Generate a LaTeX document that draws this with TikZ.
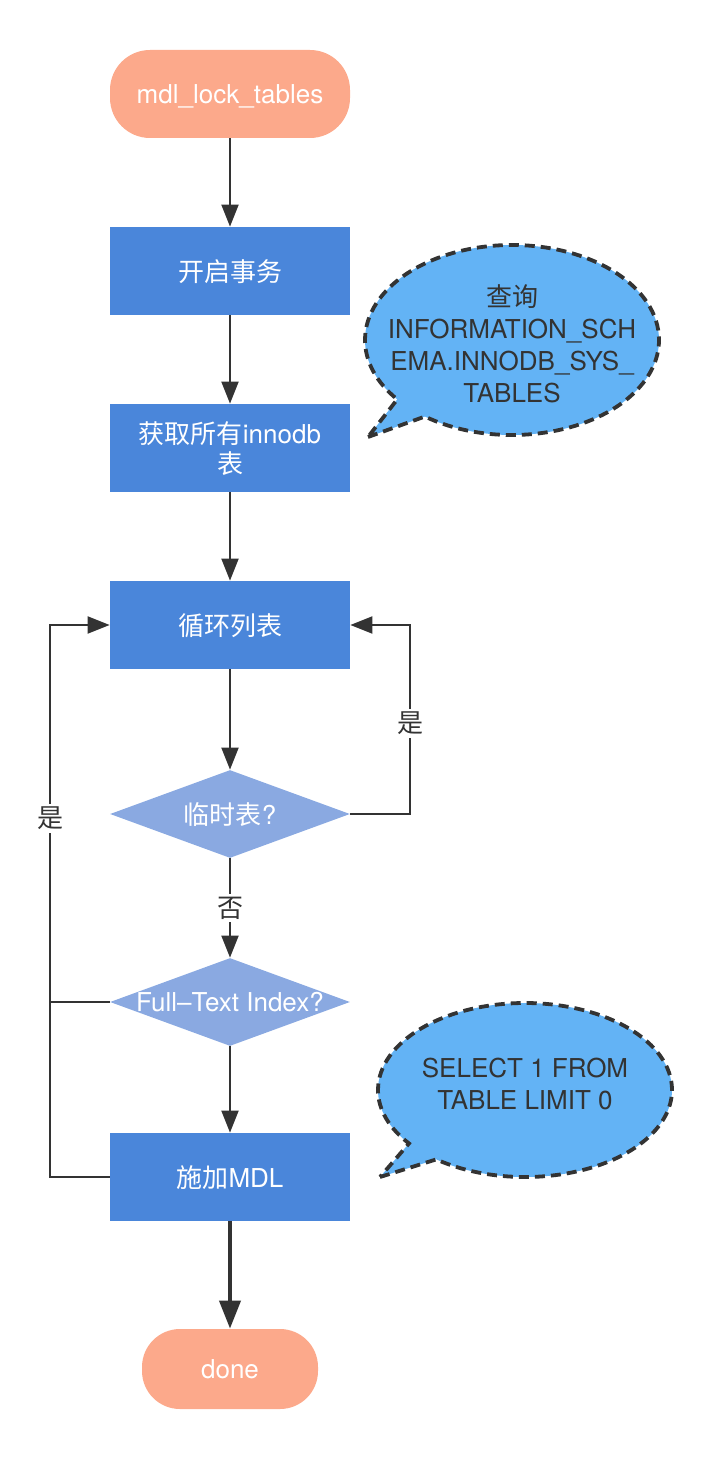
\documentclass[tikz,border=0pt]{standalone}
\usepackage{fontspec}
\setmainfont{TeX Gyre Heros}
\newfontfamily\cjk{Noto Sans CJK SC}
\usetikzlibrary{shapes.geometric,shapes.callouts,arrows.meta}
\definecolor{linegray}{HTML}{333333}
\definecolor{termfill}{HTML}{FCA98B}
\definecolor{procfill}{HTML}{4A86DA}
\definecolor{decfill}{HTML}{8AA9E1}
\definecolor{notefill}{HTML}{63B3F5}

\begin{document}
\begin{tikzpicture}[
    x=0.5pt, y=-0.5pt,
    line/.style={draw=linegray, line width=1pt},
    arr/.style={line, -{Triangle[length=11pt,width=8.5pt]}},
    txt/.style={font=\fontsize{13}{15}\selectfont},
    terminal/.style={txt, rectangle, rounded corners=20pt, fill=termfill, text=white, text depth=0pt, minimum width=120pt, minimum height=44pt},
    process/.style={txt, rectangle, fill=procfill, text=white, text depth=0pt, align=center, minimum width=120pt, minimum height=44pt},
    decision/.style={diamond, fill=decfill, minimum width=120pt, minimum height=44pt, inner sep=0pt},
    dectext/.style={txt, text=white, text depth=0pt, inner sep=0pt},
    note/.style={ellipse callout, draw=linegray, line width=1.9pt, dash pattern=on 5pt off 3pt, fill=notefill, inner sep=0pt},
    notetext/.style={text=linegray, align=center, inner sep=0pt, font=\fontsize{13}{16}\selectfont},
    answer/.style={txt, fill=white, text=linegray, inner sep=1.5pt}
]
\useasboundingbox (0,0) rectangle (721,1459);

% === MAIN FLOW ===
\node[terminal] (start) at (230,94) {mdl\_lock\_tables};
\node[process] (trx) at (230,271) {{\cjk 开启事务}};
\node[process] (fetch) at (230,448) {{\cjk 获取所有}innodb\\{\cjk 表}};
\node[process] (loop) at (230,625) {{\cjk 循环列表}};
\node[decision, label={[dectext]center:{\cjk 临时表}?}] (temp) at (230,814) {};
\node[decision, label={[dectext]center:Full--Text Index?}] (fti) at (230,1002) {};
\node[process] (mdl) at (230,1177) {{\cjk 施加}MDL};
\node[terminal, rounded corners=19pt, minimum width=88pt, minimum height=40pt] (done) at (230,1369) {done};

\draw[arr] (start) -- (trx);
\draw[arr] (trx) -- (fetch);
\draw[arr] (fetch) -- (loop);
\draw[arr] (loop) -- (temp);
\draw[arr] (temp) -- node[answer] {\cjk 否} (fti);
\draw[arr] (fti) -- (mdl);
\draw[line, line width=2pt, -{Triangle[length=14pt,width=10.5pt]}] (mdl) -- (done);

% === LOOP BACK ===
\coordinate (rightbus) at (410,814);
\draw[arr] (temp.east) -- (rightbus) |- node[answer, pos=0.24] {\cjk 是} (loop.east);

\coordinate (leftbus) at (50,1177);
\draw[arr] (mdl.west) -- (leftbus) |- node[answer, pos=0.325] {\cjk 是} (loop.west);
\draw[line] (fti.west) -- (fti.west -| leftbus);

% === NOTES ===
\node[note, minimum width=147pt, minimum height=95pt, callout absolute pointer={(368,437)}] (query) at (512,340) {};
\node[notetext] at ([yshift=-2pt]query.center) {{\cjk 查询}\\INFORMATION\_SCH\\EMA.INNODB\_SYS\_\\TABLES};
\node[note, minimum width=147pt, minimum height=87pt, callout absolute pointer={(380,1177)}] (select) at (525,1090) {};
\node[notetext] at ([yshift=3pt]select.center) {SELECT 1 FROM\\TABLE LIMIT 0};

\end{tikzpicture}
\end{document}
